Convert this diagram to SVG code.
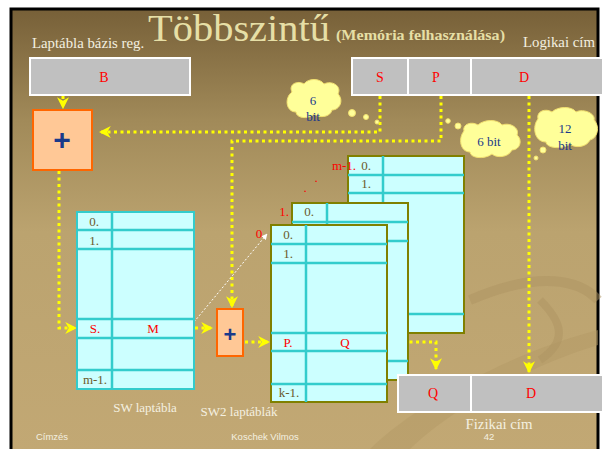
<svg xmlns="http://www.w3.org/2000/svg" width="602" height="449" viewBox="0 0 602 449">
<defs>
<linearGradient id="bg" x1="0" y1="0" x2="0" y2="1">
<stop offset="0" stop-color="#776038"/>
<stop offset="0.25" stop-color="#a18a59"/>
<stop offset="0.5" stop-color="#bba36f"/>
<stop offset="1" stop-color="#c2a874"/>
</linearGradient>
<marker id="ya" viewBox="0 0 10 10" refX="9" refY="5" markerWidth="4" markerHeight="4" orient="auto" markerUnits="strokeWidth">
<path d="M0,0 L10,5 L0,10 L3,5 Z" fill="#ffff00"/>
</marker>
<marker id="wa" viewBox="0 0 10 10" refX="9" refY="5" markerWidth="6" markerHeight="6" orient="auto" markerUnits="strokeWidth">
<path d="M0,0 L10,5 L0,10 Z" fill="#ffffff"/>
</marker>
</defs>
<style>
.serif{font-family:"Liberation Serif","DejaVu Serif",serif}
.sans{font-family:"Liberation Sans",Arial,sans-serif}
.lbl{font-size:13px;fill:#f4f0e0}
.lbl2{font-size:14.8px;fill:#f4f0e0}
.reg{fill:#c0c0c0;stroke:#ffffff;stroke-width:2}
.red{fill:#ff0000;font-size:14px;text-anchor:middle}
.tbl{fill:#ccffff;stroke:#808000;stroke-width:2}
.tbl1{fill:#ccffff;stroke:#33cccc;stroke-width:2}
.ln{stroke:#33cccc;stroke-width:2.5;fill:none}
.ol{fill:#6b5a2a;font-size:13px;text-anchor:middle}
.rl{fill:#ff0000;font-size:13px;text-anchor:middle}
.dot{stroke:#ffff00;stroke-width:3;stroke-dasharray:3 3.5;fill:none}
.plus{fill:#ffc896;stroke:#ff6600;stroke-width:2}
.pl{fill:#1a3a8a;font-weight:bold;text-anchor:middle}
.cloud{fill:#ffff99;stroke:#f2e070;stroke-width:1}
.ct{fill:#1a3a8a;font-size:13px;text-anchor:middle}
.ft{fill:#f4f0e0;font-size:9.5px;text-anchor:middle}
</style>
<rect x="0" y="0" width="602" height="449" fill="#ffffff"/>
<rect x="11" y="9" width="587" height="445" fill="url(#bg)" stroke="#000000" stroke-width="3"/>
<path d="M370,449 C420,400 520,350 598,330 L598,345 C530,365 450,410 410,449 Z" fill="#b39a66" opacity="0.5"/>
<path d="M470,300 C540,270 580,280 598,300" stroke="#ad9462" stroke-width="10" fill="none" opacity="0.5"/>
<path d="M540,360 C570,340 560,320 540,300" stroke="#ad9462" stroke-width="8" fill="none" opacity="0.5"/>

<text class="serif" x="148" y="41" font-size="37" fill="#e6dfa6" textLength="182" lengthAdjust="spacingAndGlyphs">Többszintű</text>
<text class="serif" x="336" y="40" font-size="15" font-weight="bold" fill="#e6dfa6" textLength="169" lengthAdjust="spacingAndGlyphs">(Memória felhasználása)</text>
<text class="serif lbl2" x="32" y="48">Laptábla bázis reg.</text>
<text class="serif lbl2" x="523" y="47">Logikai cím</text>

<g id="connectors">
<path class="dot" d="M63,96 L63,108" marker-end="url(#ya)"/>
<path class="dot" d="M380,96 L380,132 L100,132" marker-end="url(#ya)"/>
<path class="dot" d="M441,96 L441,141 L232,141 L232,307" marker-end="url(#ya)"/>
<path class="dot" d="M529,96 L529,372" marker-end="url(#ya)"/>
<path class="dot" d="M59,171 L59,328 L76,328" marker-end="url(#ya)"/>
<path class="dot" d="M195,328 L212,328" marker-end="url(#ya)"/>
<path class="dot" d="M245,342 L269,342" marker-end="url(#ya)"/>
<path class="dot" d="M390,342 L436,342 L436,369" marker-end="url(#ya)"/>
<path d="M194,322 L267,234" stroke="#ffffff" stroke-width="1" stroke-dasharray="2 2" fill="none" marker-end="url(#wa)"/>
</g>

<g id="regB">
<rect class="reg" x="30" y="58" width="160" height="37"/>
<text class="serif red" x="104" y="82">B</text>
</g>
<g id="logaddr">
<rect class="reg" x="352" y="58" width="56" height="37"/>
<rect class="reg" x="408" y="58" width="63" height="37"/>
<rect class="reg" x="471" y="58" width="135" height="37"/>
<text class="serif red" x="380" y="82">S</text>
<text class="serif red" x="436" y="82">P</text>
<text class="serif red" x="524" y="82">D</text>
</g>

<g id="plusBig">
<rect class="plus" x="33" y="110" width="59" height="60"/>
<text class="sans pl" x="62" y="150" font-size="30">+</text>
</g>

<g id="cloud1">
<path class="cloud" d="M292,92 C288,84 298,80 304,84 C308,78 320,78 324,84 C332,80 342,86 338,94 C344,100 340,110 332,110 C330,118 318,118 314,114 C308,120 296,118 296,112 C286,112 284,98 292,92 Z"/>
<circle class="cloud" cx="352" cy="113" r="3.5"/>
<circle class="cloud" cx="366" cy="117" r="2.5"/>
<circle class="cloud" cx="377" cy="122" r="2"/>
<text class="serif ct" x="313" y="105">6</text>
<text class="serif ct" x="313" y="121">bit</text>
</g>
<g id="cloud2">
<path class="cloud" d="M464,131 C462,124 472,121 478,125 C484,119 498,119 502,125 C510,122 520,128 517,135 C523,140 520,150 512,150 C508,158 496,158 492,154 C484,160 470,158 470,152 C460,152 458,138 464,131 Z"/>
<circle class="cloud" cx="458" cy="126" r="3"/>
<circle class="cloud" cx="448" cy="121" r="2.3"/>
<text class="serif ct" x="489" y="146">6 bit</text>
</g>
<g id="cloud3">
<path class="cloud" d="M538,119 C536,111 546,108 552,112 C558,106 572,106 576,112 C584,108 596,114 594,120 C600,126 598,138 590,140 C586,148 574,148 570,144 C562,150 546,148 546,142 C534,142 532,126 538,119 Z"/>
<circle class="cloud" cx="543" cy="150" r="3"/>
<circle class="cloud" cx="536" cy="158" r="2"/>
<text class="serif ct" x="565" y="133">12</text>
<text class="serif ct" x="565" y="150">bit</text>
</g>

<g id="swTable">
<rect class="tbl1" x="77" y="212" width="117" height="177"/>
<path class="ln" d="M112,212 V389 M77,230 H194 M77,249 H194 M77,319 H194 M77,338 H194 M77,370 H194"/>
<text class="serif ol" x="94" y="226">0.</text>
<text class="serif ol" x="94" y="245">1.</text>
<text class="serif rl" x="95" y="333">S.</text>
<text class="serif rl" x="153" y="333">M</text>
<text class="serif ol" x="95" y="384">m-1.</text>
<text class="serif lbl" x="145" y="412" text-anchor="middle">SW laptábla</text>
</g>

<g id="plusSmall">
<rect class="plus" x="217" y="309" width="26" height="47"/>
<text class="sans pl" x="230" y="342" font-size="22">+</text>
</g>

<g id="sw2back">
<rect class="tbl" x="348" y="156" width="116" height="177"/>
<path class="ln" d="M383,156 V333 M348,175 H464 M348,193 H464 M348,314 H464"/>
<text class="serif ol" x="366" y="170">0.</text>
<text class="serif ol" x="366" y="188">1.</text>
<text class="serif rl" x="344" y="170" text-anchor="end">m-1.</text>
<text class="serif rl" x="316" y="182">.</text>
<text class="serif rl" x="305" y="192">.</text>
</g>
<g id="sw2mid">
<rect class="tbl" x="292" y="203" width="116" height="177"/>
<path class="ln" d="M327,203 V380 M292,222 H408 M292,241 H408 M292,361 H408"/>
<text class="serif ol" x="309" y="216">0.</text>
<text class="serif rl" x="284" y="216">1.</text>
</g>
<g id="sw2front">
<rect class="tbl" x="271" y="225" width="116" height="177"/>
<path class="ln" d="M306,225 V402 M271,244 H387 M271,263 H387 M271,333 H387 M271,351 H387 M271,384 H387"/>
<text class="serif ol" x="288" y="239">0.</text>
<text class="serif ol" x="288" y="258">1.</text>
<text class="serif rl" x="288" y="347">P.</text>
<text class="serif rl" x="345" y="347">Q</text>
<text class="serif ol" x="289" y="397">k-1.</text>
<text class="serif rl" x="259" y="238">0</text>
<text class="serif lbl" x="239" y="416" text-anchor="middle">SW2 laptáblák</text>
</g>

<g id="physaddr">
<rect class="reg" x="398" y="375" width="73" height="37"/>
<rect class="reg" x="471" y="375" width="135" height="37"/>
<text class="serif red" x="433" y="398">Q</text>
<text class="serif red" x="531" y="398">D</text>
<text class="serif lbl2" x="499" y="429" text-anchor="middle">Fizikai cím</text>
</g>

<text class="sans ft" x="52" y="440">Címzés</text>
<text class="sans ft" x="265" y="440">Koschek Vilmos</text>
<text class="sans ft" x="489" y="440">42</text>
</svg>
